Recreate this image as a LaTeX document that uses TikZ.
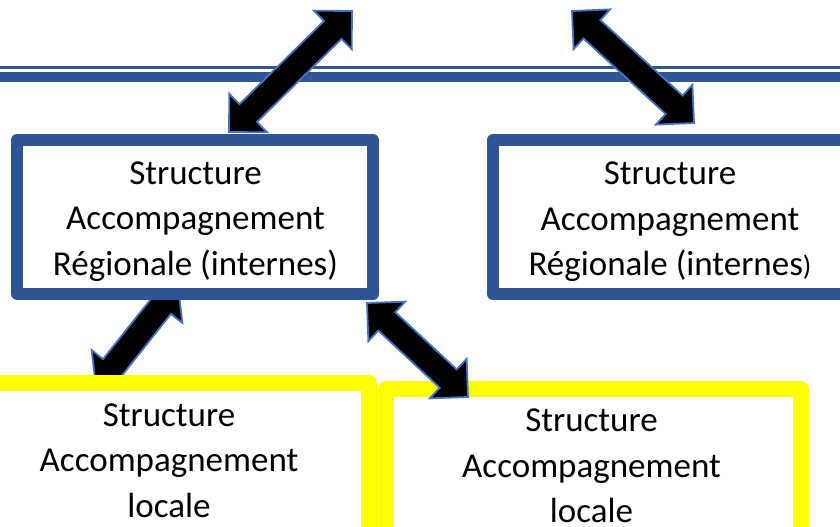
\documentclass[tikz,border=0pt]{standalone}
\usepackage{fontspec}
\setmainfont{Carlito}
\usetikzlibrary{calc}
\definecolor{boxblue}{HTML}{2F5597}
\definecolor{arrowblue}{HTML}{4472C4}
\definecolor{boxyellow}{HTML}{FFFF00}
% block double arrow between two named coordinates
\newcommand{\blkarrow}[2]{%
  \draw[blockarrow] (#1)
    -- ($(#1)!27pt!(#2)!27pt!90:(#2)$)
    -- ($(#1)!27pt!(#2)!12.5pt!90:(#2)$)
    -- ($(#2)!27pt!(#1)!12.5pt!-90:(#1)$)
    -- ($(#2)!27pt!(#1)!27pt!-90:(#1)$)
    -- (#2)
    -- ($(#2)!27pt!(#1)!27pt!90:(#1)$)
    -- ($(#2)!27pt!(#1)!12.5pt!90:(#1)$)
    -- ($(#1)!27pt!(#2)!12.5pt!-90:(#2)$)
    -- ($(#1)!27pt!(#2)!27pt!-90:(#2)$)
    -- cycle;}
\begin{document}
\begin{tikzpicture}[x=1pt,y=-1pt,
  bluebox/.style={draw=boxblue, line width=12pt, fill=white, line join=round,
    minimum width=356pt, minimum height=154pt, inner sep=0pt},
  yellowbox/.style={draw=boxyellow, line width=16pt, fill=white, line join=round,
    inner sep=0pt},
  lbl/.style={font=\fontsize{35}{45.5}\selectfont, align=center, inner sep=0pt},
  blockarrow/.style={draw=arrowblue, fill=black, line width=1.8pt, line join=miter},
  rule/.style={draw=boxblue}]
\useasboundingbox (0,0) rectangle (840,527);
\clip (0,0) rectangle (840,527);
\fill[white] (0,0) rectangle (840,527);
% header double rule
\coordinate (hl1) at (0,67.5);  \coordinate (hr1) at (840,67.5);
\coordinate (hl2) at (0,77);    \coordinate (hr2) at (840,77);
\draw[rule, line width=3pt] (hl1) -- (hr1);
\draw[rule, line width=10pt] (hl2) -- (hr2);
% arrow end points
\coordinate (a1s) at (229,132); \coordinate (a1e) at (352,11);
\coordinate (a2s) at (572,11);  \coordinate (a2e) at (694,123);
\coordinate (a3s) at (96,388);  \coordinate (a3e) at (178,285);
\coordinate (a4s) at (367,303); \coordinate (a4e) at (468,397);
\blkarrow{a1s}{a1e}
\blkarrow{a2s}{a2e}
\blkarrow{a3s}{a3e}
% boxes
\node[bluebox] (reg1) at (195,217) {};
\node[bluebox] (reg2) at (671,217) {};
\node[yellowbox, minimum width=400pt, minimum height=160pt] (loc1) at (169,463) {};
\node[yellowbox, minimum width=415pt, minimum height=158pt] (loc2) at (593.5,468) {};
\blkarrow{a4s}{a4e}
% texts
\node[lbl] (t1) at (195.5,221.5) {Structure\\Accompagnement\\Régionale (internes)};
\node[lbl] (t2) at (670,222) {Structure\\Accompagnement\\Régionale (internes{\fontsize{28}{28}\selectfont )}};
\node[lbl] (t3) at (169,460.5) {Structure\\Accompagnement\\locale};
\node[lbl] (t4) at (591.5,466) {Structure\\Accompagnement\\locale};
\end{tikzpicture}
\end{document}
